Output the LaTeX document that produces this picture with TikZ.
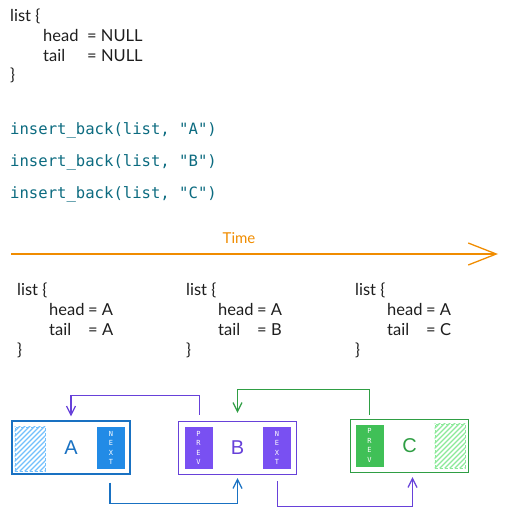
\documentclass[tikz,border=0pt]{standalone}
\usepackage{fontspec}
\setmainfont{Lato}
\setmonofont{DejaVu Sans Mono}
\newfontfamily\letterfont{Liberation Sans}
\usetikzlibrary{arrows.meta}

\definecolor{inkdark}{HTML}{1E1E1E}
\definecolor{codeteal}{HTML}{0C6B80}
\definecolor{timeorange}{HTML}{F08C00}
\definecolor{blueline}{HTML}{1971C2}
\definecolor{bluefill}{HTML}{228BE6}
\definecolor{bluehatch}{HTML}{74C0FC}
\definecolor{violetline}{HTML}{6741D9}
\definecolor{violetfill}{HTML}{7950F2}
\definecolor{greenline}{HTML}{2F9E44}
\definecolor{greenfill}{HTML}{40C057}
\definecolor{greenhatch}{HTML}{8CE99A}

\begin{document}
\begin{tikzpicture}[x=1pt,y=-1pt,
    hand/.style={anchor=base west, inner sep=0pt, text=inkdark, align=left,
      font=\fontsize{16.5}{19.7}\selectfont},
    code/.style={anchor=base west, inner sep=0pt, text=codeteal,
      font=\fontsize{15.6}{18}\selectfont\ttfamily},
    nodebox/.style={draw=#1, text=#1, line width=1.3pt, minimum width=118pt,
      minimum height=53pt, inner sep=0pt, font=\fontsize{20}{20}\selectfont\letterfont},
    ptr/.style={fill=#1, text=white, minimum width=28pt, minimum height=42pt,
      inner sep=0pt, align=center, font=\fontsize{7}{9.5}\selectfont\ttfamily},
    hatch/.style={draw=#1, densely dashed, line width=0.6pt,
      minimum width=30pt, minimum height=44pt, inner sep=0pt},
    link/.style={draw=#1, line width=1.2pt, -{Straight Barb[length=9pt,width=9pt]}}]

  \useasboundingbox (0,0) rectangle (508,516);

  % starting list (placed by the baseline of its last line)
  \node[hand] (start) at (10,81) {list \{\\
    \hspace*{33pt}\makebox[44pt][l]{head}= NULL\\
    \hspace*{33pt}\makebox[44pt][l]{tail}= NULL\\
    \}};

  % calls
  \node[code] (callA) at (10,134) {insert\_back(list, "A")};
  \node[code] (callB) at (10,166) {insert\_back(list, "B")};
  \node[code] (callC) at (10,198) {insert\_back(list, "C")};

  % time axis
  \coordinate (tstart) at (11,254);
  \coordinate (tend) at (498,254);
  \draw[timeorange, line width=1.3pt, -{Straight Barb[length=28pt,width=22pt]}] (tstart) -- (tend);
  \node[text=timeorange, font=\fontsize{15}{15}\selectfont] (time) at (239,238) {Time};

  % list after each call
  \foreach \px/\tl/\nm in {17/A/stateA, 186/B/stateB, 355/C/stateC}{
    \node[hand] (\nm) at (\px,355) {list \{\\
      \hspace*{32pt}\makebox[39pt][l]{head}= A\\
      \hspace*{32pt}\makebox[39pt][l]{tail}= \tl\\
      \}};
  }

  % nodes of the list
  \node[nodebox=blueline] (boxA) at (71,447.5) {A};
  \node[hatch=bluehatch] (hatchA) at (30,449) {};
  \node[ptr=bluefill] (nextA) at (111,448) {N\\E\\X\\T};

  \node[nodebox=violetline] (boxB) at (237.5,448) {B};
  \node[ptr=violetfill] (prevB) at (198.5,448) {P\\R\\E\\V};
  \node[ptr=violetfill] (nextB) at (277,448) {N\\E\\X\\T};

  \node[nodebox=greenline] (boxC) at (409.5,446) {C};
  \node[ptr=greenfill] (prevC) at (369.5,445.5) {P\\R\\E\\V};
  \node[hatch=greenhatch] (hatchC) at (450,446) {};

  % empty ends are hatched
  \foreach \h/\c in {hatchA/bluehatch, hatchC/greenhatch}{
    \begin{scope}
      \clip (\h.south west) rectangle (\h.north east);
      \foreach \s in {0,5,...,75}
        \draw[\c, line width=1.1pt] ([xshift=\s pt-45pt]\h.south west) -- ++(50,-50);
    \end{scope}
  }

  % pointers
  \draw[link=violetline] ([xshift=-38pt,yshift=6pt]boxB.north) -- ++(0,-19)
    -| ([yshift=4pt]boxA.north);
  \draw[link=greenline] ([xshift=-40pt,yshift=4pt]boxC.north) -- ++(0,-25)
    -| ([yshift=8pt]boxB.north);
  \draw[link=blueline] ([xshift=39pt,yshift=-8pt]boxA.south) -- ++(0,21)
    -| ([yshift=-3pt]boxB.south);
  \draw[link=violetline] ([xshift=40pt,yshift=-6pt]boxB.south) -- ++(0,25)
    -| ([xshift=3pt,yshift=-4pt]boxC.south);

\end{tikzpicture}
\end{document}
